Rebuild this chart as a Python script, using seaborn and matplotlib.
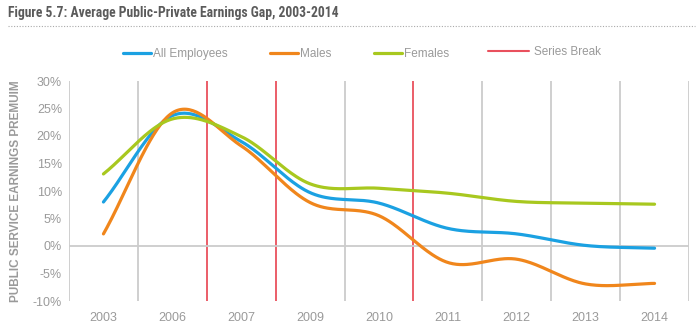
import numpy as np
import pandas as pd
import matplotlib
matplotlib.use("Agg")
import matplotlib.pyplot as plt
from matplotlib.lines import Line2D
import seaborn as sns

# Survey years shown as evenly spaced categories
years = ["2003", "2006", "2007", "2009", "2010", "2011", "2012", "2013", "2014"]

# Public service earnings premium (%)
all_employees = [8.0, 23.7, 19.0, 9.7, 7.8, 3.2, 2.2, 0.1, -0.4]
males = [2.2, 24.2, 18.2, 7.9, 5.5, -3.0, -2.4, -6.9, -6.8]
females = [13.1, 23.1, 19.9, 11.3, 10.5, 9.6, 8.1, 7.8, 7.6]

# Boundaries between years where the series breaks
break_after = ["2006", "2007", "2010"]

y_ticks = [-10, -5, 0, 5, 10, 15, 20, 25, 30]

series_names = ["All Employees", "Males", "Females"]
colors = {"All Employees": "#1ba1e2", "Males": "#f0861c", "Females": "#a8c81f"}
break_color = "#e9505d"
grid_color = "#cccccc"
text_color = "#9a9a9a"


def smooth_curve(ys, steps=40):
    """Cubic Hermite (Catmull-Rom) path through the points, for a smoothed line."""
    ys = np.asarray(ys, dtype=float)
    n = len(ys)
    m = np.empty(n)
    m[1:-1] = (ys[2:] - ys[:-2]) / 2.0
    m[0] = ys[1] - ys[0]
    m[-1] = ys[-1] - ys[-2]
    xs_out, ys_out = [], []
    for i in range(n - 1):
        t = np.linspace(0, 1, steps, endpoint=(i == n - 2))
        h00 = 2 * t**3 - 3 * t**2 + 1
        h10 = t**3 - 2 * t**2 + t
        h01 = -2 * t**3 + 3 * t**2
        h11 = t**3 - t**2
        xs_out.append(i + t)
        ys_out.append(h00 * ys[i] + h10 * m[i] + h01 * ys[i + 1] + h11 * m[i + 1])
    return np.concatenate(xs_out), np.concatenate(ys_out)


frames = []
for name, vals in zip(series_names, [all_employees, males, females]):
    sx, sy = smooth_curve(vals)
    frames.append(pd.DataFrame({"pos": sx, "premium": sy, "series": name}))
df = pd.concat(frames, ignore_index=True)

sns.set_theme(style="white")
plt.rcParams["font.family"] = ["Liberation Sans", "DejaVu Sans"]

fig = plt.figure(figsize=(7.0, 3.33), dpi=100)
ax = fig.add_axes([69 / 700, 1 - 301 / 333, 620 / 700, 220 / 333])

# Vertical separators between year bands
n = len(years)
for b in range(n + 1):
    xb = b - 0.5
    is_break = 0 < b < n and years[b - 1] in break_after
    ax.axvline(xb, color=break_color if is_break else grid_color,
               lw=1.3, zorder=1)
ax.axhline(0, color=grid_color, lw=1.3, zorder=1)

sns.lineplot(data=df, x="pos", y="premium", hue="series", palette=colors,
             hue_order=series_names, sort=False, estimator=None,
             lw=2.3, legend=False, ax=ax, zorder=3)

ax.set_xlim(-0.5, n - 0.5)
ax.set_ylim(-10, 30)
ax.set_xticks(range(n))
ax.set_xticklabels(years)
ax.set_yticks(y_ticks)
ax.set_yticklabels([f"{v}%" for v in y_ticks])
ax.tick_params(axis="both", length=0, labelsize=9, colors=text_color)
ax.tick_params(axis="x", pad=8)
ax.tick_params(axis="y", pad=5)
for s in ax.spines.values():
    s.set_visible(False)
ax.set_xlabel("")
ax.set_ylabel("PUBLIC SERVICE EARNINGS PREMUIM", fontsize=8.5,
              fontweight="bold", color=text_color)
ax.yaxis.set_label_coords(-0.076, 0.5)

# Title and dotted rule beneath it
fig.text(8 / 700, 1 - 13 / 333, "Figure 5.7: Average Public-Private Earnings Gap, 2003-2014",
         fontsize=9.8, fontweight="bold", color="#5b5b5b",
         family=["Roboto Condensed", "IBM Plex Sans Condensed", "Liberation Sans"],
         va="center", ha="left")
fig.add_artist(Line2D([8 / 700, 695 / 700], [1 - 26 / 333, 1 - 26 / 333],
                      transform=fig.transFigure, color="#aaaaaa", lw=0.8,
                      linestyle=(0, (1, 1.5))))

handles = [Line2D([], [], color=colors[s], lw=2.3) for s in series_names]
leg = fig.legend(handles, series_names, loc="center left",
                 bbox_to_anchor=(117 / 700, 1 - 54 / 333), ncol=3,
                 frameon=False, fontsize=8.5, handlelength=2.4,
                 handletextpad=0.15, columnspacing=3.6, borderpad=0)
for t in leg.get_texts():
    t.set_color(text_color)

leg2 = fig.legend([Line2D([], [], color=break_color, lw=1.5)], ["Series Break"],
                  loc="center left", bbox_to_anchor=(482 / 700, 1 - 52 / 333),
                  frameon=False, fontsize=8.5, handlelength=3.5,
                  handletextpad=0.4, borderpad=0)
for t in leg2.get_texts():
    t.set_color(text_color)

fig.savefig("out.png", dpi=100)
